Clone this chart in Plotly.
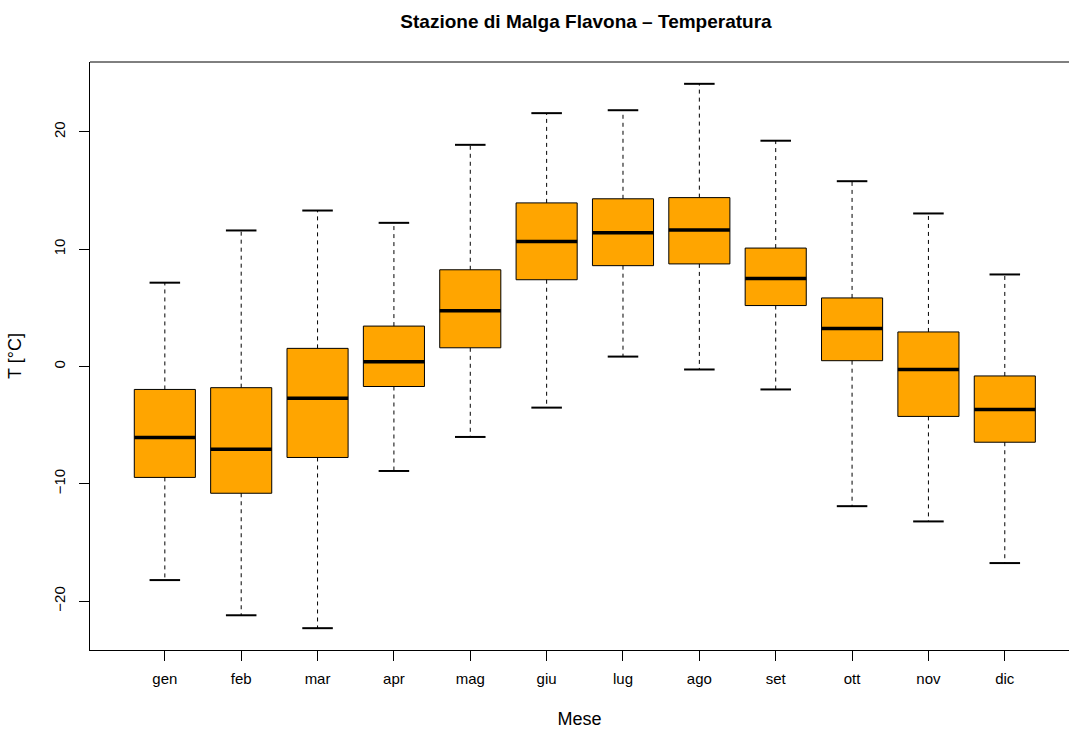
import plotly.graph_objects as go

months = ["gen", "feb", "mar", "apr", "mag", "giu", "lug", "ago", "set", "ott", "nov", "dic"]
lower = [-18.2, -21.2, -22.3, -8.9, -6.0, -3.5, 0.85, -0.25, -1.95, -11.9, -13.2, -16.75]
q1 = [-9.45, -10.8, -7.75, -1.7, 1.6, 7.4, 8.6, 8.75, 5.2, 0.5, -4.25, -6.45]
median = [-6.05, -7.05, -2.7, 0.4, 4.75, 10.65, 11.4, 11.65, 7.5, 3.25, -0.25, -3.65]
q3 = [-1.95, -1.8, 1.55, 3.45, 8.25, 13.95, 14.3, 14.4, 10.1, 5.85, 2.95, -0.8]
upper = [7.15, 11.6, 13.3, 12.25, 18.9, 21.6, 21.85, 24.1, 19.25, 15.8, 13.05, 7.85]

pos = list(range(1, len(months) + 1))
boxw = 0.8
capw = 0.4


def segs(xs0, xs1, ys0, ys1):
    x, y = [], []
    for a, b, c, d in zip(xs0, xs1, ys0, ys1):
        x += [a, b, None]
        y += [c, d, None]
    return x, y


fig = go.Figure()

# baffi tratteggiati
wx, wy = segs(pos + pos, pos + pos, q3 + q1, upper + lower)
fig.add_trace(go.Scatter(x=wx, y=wy, mode="lines",
                         line=dict(color="black", width=1, dash="4px,4px"),
                         hoverinfo="skip"))

# estremi
cx, cy = segs([p - capw / 2 for p in pos] * 2, [p + capw / 2 for p in pos] * 2,
              upper + lower, upper + lower)
fig.add_trace(go.Scatter(x=cx, y=cy, mode="lines",
                         line=dict(color="black", width=2), hoverinfo="skip"))

# scatole
fig.add_trace(go.Bar(x=pos, y=[b - a for a, b in zip(q1, q3)], base=q1, width=boxw,
                     marker=dict(color="#FFA500", line=dict(color="black", width=1))))

# mediane
mx, my = segs([p - boxw / 2 for p in pos], [p + boxw / 2 for p in pos], median, median)
fig.add_trace(go.Scatter(x=mx, y=my, mode="lines",
                         line=dict(color="black", width=3.5), hoverinfo="skip"))

font = "Liberation Sans, Arial, Helvetica, sans-serif"
fig.update_layout(
    width=1069, height=731,
    margin=dict(l=90, r=0, t=62, b=81),
    paper_bgcolor="white", plot_bgcolor="white",
    showlegend=False,
    font=dict(family=font, size=15, color="black"),
    title=dict(text="<b>Stazione di Malga Flavona – Temperatura</b>",
               x=586 / 1069, xref="container", xanchor="center",
               y=1 - 21 / 731, yanchor="middle",
               font=dict(size=19, family=font, color="black")),
    # bordo superiore del riquadro
    shapes=[dict(type="line", xref="paper", yref="paper", x0=0, x1=1, y0=1, y1=1,
                 line=dict(color="black", width=1))],
)

fig.update_xaxes(range=[0.02, 0.02 + 979 / 76.36], tickvals=pos, ticktext=months,
                 showline=True, linecolor="black", linewidth=1,
                 ticks="outside", ticklen=10, tickcolor="black",
                 ticklabelstandoff=5,
                 showgrid=False, zeroline=False,
                 title=dict(text="Mese", standoff=26))
fig.update_yaxes(range=[-24.16, 25.96], tickvals=[-20, -10, 0, 10, 20],
                 tickangle=-90,
                 showline=True, linecolor="black", linewidth=1,
                 ticks="outside", ticklen=10, tickcolor="black",
                 ticklabelstandoff=8,
                 showgrid=False, zeroline=False,
                 title=dict(text="T [°C]", standoff=24))

fig.write_html("out.html", config={"displayModeBar": False},
               post_script="document.body.style.margin='0';")
